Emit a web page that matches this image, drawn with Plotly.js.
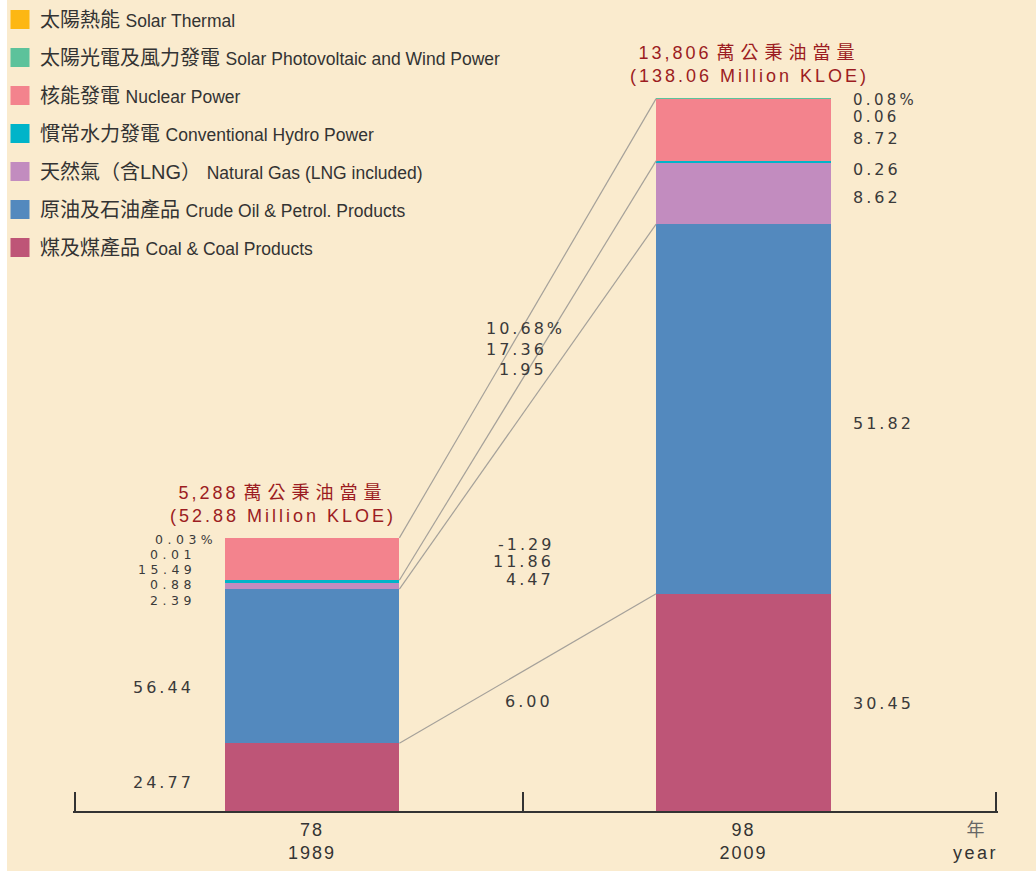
<!DOCTYPE html>
<html>
<head>
<meta charset="utf-8">
<script src="https://cdn.plot.ly/plotly-3.0.1.min.js"></script>
<style>
html,body{margin:0;padding:0;background:#ffffff;}
#chart{position:absolute;left:7px;top:0;width:1029px;height:871px;}
</style>
</head>
<body>
<div id="chart"></div>
<script>
// ---------------- data ----------------
const seriesZh = ['煤及煤產品','原油及石油產品','天然氣（含LNG）','慣常水力發電','核能發電','太陽光電及風力發電','太陽熱能'];
const seriesEn = ['Coal & Coal Products','Crude Oil & Petrol. Products','Natural Gas (LNG included)','Conventional Hydro Power','Nuclear Power','Solar Photovoltaic and Wind Power','Solar Thermal'];
const years = ['1989','2009'];
const rocYears = ['78','98'];
const totalKloe = [52.88, 138.06];      // million KLOE
const totalZh = ['5,288','13,806'];      // 萬公秉油當量
const share1989 = [24.77, 56.44, 2.39, 0.88, 15.49, 0.01, 0.03];  // %
const share2009 = [30.45, 51.82, 8.62, 0.26, 8.72, 0.06, 0.08];   // %
const growth = [6.00, 4.47, 11.86, -1.29, 1.95, 17.36, 10.68];    // average annual growth %

// ---------------- styles ----------------
const colors = ['#BE5577','#5389BE','#C28CBF','#00B4C9','#F3838D','#5DC29B','#FDB713'];
const bg = '#FAEBCE';
const fontNum = '"DejaVu Sans", sans-serif';
const fontTxt = '"Liberation Sans", "Noto Sans CJK TC", sans-serif';
const txtColor = '#3a3a3a';
const titleColor = '#9C1C22';
const barWidth = 0.405;
const sp = (t, ls) => `<span style="letter-spacing:${ls}px">${t}</span>`;

// page pixel -> paper helpers (plot area: x 73..998, y 36..811)
const PX0 = 73, PXW = 925, PY0 = 811, PYH = 775;
const pxX = px => (px - PX0) / PXW;
const pxY = py => (PY0 - py) / PYH;

const traces = [];

// connecting lines (cumulative tops of coal, oil, hydro, nuclear)
const cum = (arr, k, tot) => arr.slice(0, k + 1).reduce((a, b) => a + b, 0) * tot / 100;
[0, 1, 3, 4].forEach(k => {
  traces.push({
    type: 'scatter', mode: 'lines', xaxis: 'x2', yaxis: 'y',
    x: [0 + barWidth / 2, 1 - barWidth / 2],
    y: [cum(share1989, k, totalKloe[0]), cum(share2009, k, totalKloe[1])],
    line: {color: '#A5A19A', width: 1.2},
    showlegend: false, hoverinfo: 'skip'
  });
});

// stacked bars (absolute amounts = share x total)
for (let i = 0; i < seriesZh.length; i++) {
  traces.push({
    type: 'bar', x: [0, 1],
    y: [share1989[i] * totalKloe[0] / 100, share2009[i] * totalKloe[1] / 100],
    width: barWidth,
    marker: {color: colors[i], line: {width: 0}},
    name: seriesZh[i] + ' ' + seriesEn[i],
    showlegend: false,
    hovertemplate: '%{y:.2f}<extra>' + seriesEn[i] + '</extra>'
  });
}
// legend entries (top = last series)
for (let i = seriesZh.length - 1; i >= 0; i--) {
  traces.push({
    type: 'scatter', mode: 'markers', x: [null], y: [null],
    marker: {symbol: 'square', size: 16, color: colors[i], line: {color: colors[i], width: 3}},
    name: seriesZh[i] + ' <span style="font-size:17.5px">' + seriesEn[i] + '</span>',
    legendgroup: 'g' + i, showlegend: true, hoverinfo: 'skip'
  });
}

// ---------------- annotations ----------------
const ann = [];
function lab(text, px, py, xanchor, size, ls) {
  ann.push({xref: 'paper', yref: 'paper', x: pxX(px), y: pxY(py), xanchor: xanchor, yanchor: 'middle',
    showarrow: false, borderpad: 0, text: sp(text, ls), font: {family: fontNum, size: size, color: txtColor}});
}
const last = seriesZh.length - 1;
// 1989 labels (left side)
const y1989 = [782, 687, 600, 584.5, 569.5, 554, 539];
share1989.forEach((v, i) => {
  const small = i >= 2;
  const ls = small ? 4.5 : 3;
  const t = v.toFixed(2) + (i === last ? '%' : '');
  lab(t, (i === last ? 213 : 192) + ls, y1989[i], 'right', small ? 12.5 : 16, ls);
});
// 2009 labels (right side)
const y2009 = [703, 423, 197, 170, 138, 117.5, 100];
share2009.forEach((v, i) => {
  const small = i >= 5;
  lab(v.toFixed(2) + (i === last ? '%' : ''), 852, y2009[i], 'left', small ? 15 : 16, small ? 3.3 : 3);
});
// growth labels (middle)
const yMid = [701, 579, 561, 544, 370, 349, 328];
const xMid = [551, 552, 552, 552, 545, 545, 563];
growth.forEach((v, i) => {
  lab(v.toFixed(2) + (i === last ? '%' : ''), xMid[i] + 3, yMid[i], 'right', 16, 3);
});
// totals above bars
const totShift = [-29, 6];
totalKloe.forEach((t, i) => {
  ann.push({xref: 'x', yref: 'y', x: i, y: t, xshift: totShift[i], yshift: 10,
    xanchor: 'center', yanchor: 'bottom', showarrow: false,
    text: sp(totalZh[i], 3) + ' ' + sp('萬公秉油當量', 6) + '<br>' + sp('(' + t.toFixed(2) + ' Million KLOE)', 3),
    font: {family: fontTxt, size: 18, color: titleColor}});
});
// unit label
ann.push({xref: 'paper', yref: 'paper', x: pxX(1000), y: pxY(841), xanchor: 'right', yanchor: 'middle',
  showarrow: false, align: 'center',
  text: '<span style="fill:#666">年</span><br>' + sp('year', 2.5),
  font: {family: fontTxt, size: 18, color: '#333'}});

const xr = [(73 - 312) / 431.5, (998 - 312) / 431.5];

const layout = {
  width: 1029, height: 871,
  margin: {l: 66, r: 38, t: 36, b: 60, autoexpand: false},
  paper_bgcolor: bg, plot_bgcolor: bg,
  barmode: 'stack',
  showlegend: true,
  legend: {x: pxX(0), y: pxY(0), xanchor: 'left', yanchor: 'top',
    traceorder: 'grouped', tracegroupgap: 9,
    bgcolor: 'rgba(0,0,0,0)', font: {family: fontTxt, size: 20, color: '#333'}},
  xaxis: {range: xr, showline: true, linecolor: '#333', linewidth: 2,
    ticks: 'inside', ticklen: 19, tickwidth: 2, tickcolor: '#333',
    tickmode: 'array', tickvals: [xr[0] + 0.004, (523 - 312) / 431.5, xr[1] - 0.004],
    showticklabels: false, showgrid: false, zeroline: false, fixedrange: true},
  xaxis2: {range: xr, overlaying: 'x', anchor: 'y', side: 'bottom',
    tickmode: 'array', tickvals: [0, 1],
    ticktext: rocYears.map((r, i) => sp(r, 2) + '<br>' + sp(years[i], 2)),
    ticks: '', showline: false, showgrid: false, zeroline: false, ticklabelstandoff: 6,
    tickfont: {family: fontTxt, size: 18, color: '#333'}, fixedrange: true},
  yaxis: {range: [0, 150], visible: false, fixedrange: true},
  annotations: ann
};

Plotly.newPlot('chart', traces, layout, {displayModeBar: false, staticPlot: true});
</script>
</body>
</html>
